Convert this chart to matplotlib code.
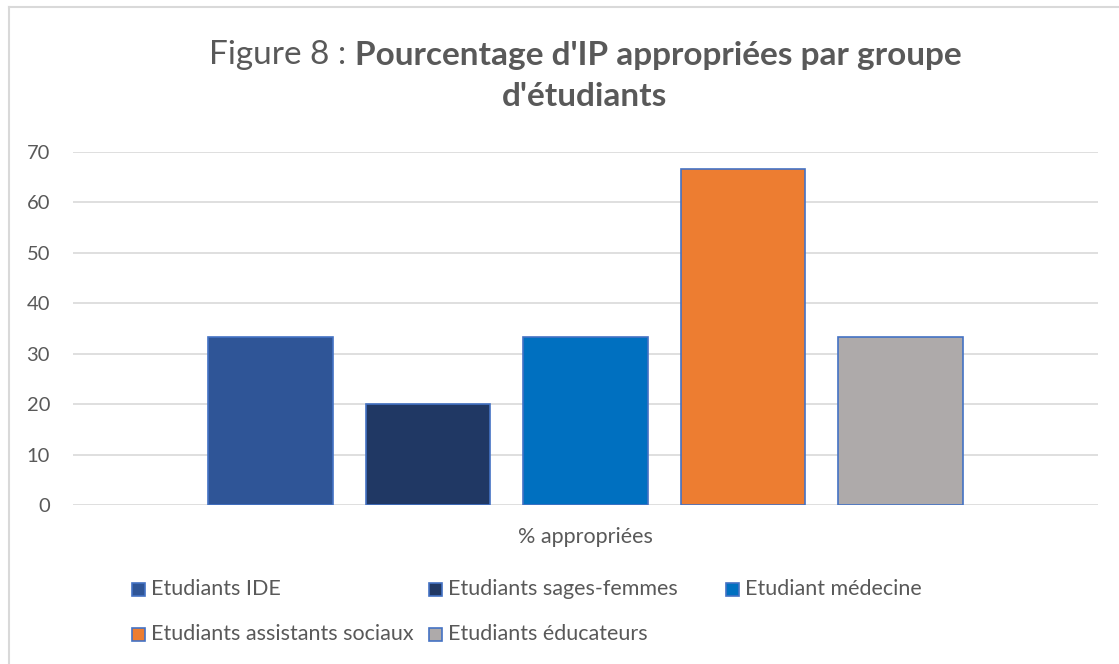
import matplotlib
matplotlib.use("Agg")
import matplotlib.pyplot as plt
from matplotlib.patches import Rectangle
from matplotlib.lines import Line2D

categories = ["Etudiants IDE", "Etudiants sages-femmes", "Etudiant médecine",
              "Etudiants assistants sociaux", "Etudiants éducateurs"]
values = [33.33, 20.0, 33.33, 66.67, 33.33]
colors = ["#2F5597", "#203864", "#0070C0", "#ED7D31", "#AEAAAA"]
yticks = [0, 10, 20, 30, 40, 50, 60, 70]
xlabel = "% appropriées"
title_normal = "Figure 8 : "
title_bold1 = "Pourcentage d'IP appropriées par groupe"
title_bold2 = "d'étudiants"

FONT = "Lato"
TXT = "#595959"
W, H = 1119, 664
fig = plt.figure(figsize=(W / 100, H / 100), dpi=100)
fig.patch.set_facecolor("white")

# chart border (top and left visible)
fig.add_artist(Line2D([9 / W, 1.0], [1 - 7 / H, 1 - 7 / H], color="#D9D9D9", lw=1.5))
fig.add_artist(Line2D([9 / W, 9 / W], [0, 1 - 7 / H], color="#D9D9D9", lw=1.5))

ax = fig.add_axes([73 / W, 1 - 505 / H, (1098 - 73) / W, (505 - 152) / H])
n = len(values)
xs = [i - (n - 1) / 2 for i in range(n)]
ax.bar(xs, values, width=0.79, color=colors, edgecolor="#4472C4", linewidth=1.2, zorder=3)
ax.set_xlim(-3.254, 3.254)
ax.set_ylim(0, 70)
ax.set_yticks(yticks)
ax.set_yticklabels([str(t) for t in yticks], fontsize=14.5, color=TXT, fontfamily=FONT)
ax.tick_params(axis="y", length=0, pad=16.5)
ax.set_xticks([])
ax.grid(axis="y", color="#D9D9D9", linewidth=1.2, zorder=0)
for s in ax.spines.values():
    s.set_visible(False)
ax.set_xlabel(xlabel, fontsize=15.5, color=TXT, fontfamily=FONT, labelpad=16)

# Title with mixed weights, centered
cx = 585 / W
TS = 24
fig.canvas.draw()
r = fig.canvas.get_renderer()
t1 = fig.text(0, 1 - 55 / H, title_normal, fontsize=TS, color=TXT, fontfamily=FONT, va="center")
t2 = fig.text(0, 1 - 55 / H, title_bold1, fontsize=TS, color=TXT, fontfamily=FONT,
              fontweight="bold", va="center")
w1 = t1.get_window_extent(r).width
w2 = t2.get_window_extent(r).width
start = cx * W - (w1 + w2) / 2
t1.set_x(start / W)
t2.set_x((start + w1) / W)
fig.text(cx, 1 - 97 / H, title_bold2, fontsize=TS, color=TXT, fontfamily=FONT,
         fontweight="bold", va="center", ha="center")

# Legend (row-major, equal column widths)
col_x = [132, 429, 726]
row_y = [589, 634]
for i, (lab, c) in enumerate(zip(categories, colors)):
    row, col = divmod(i, 3)
    x0 = col_x[col]
    y0 = row_y[row]
    fig.add_artist(Rectangle((x0 / W, 1 - (y0 + 6.5) / H), 13 / W, 13 / H,
                             facecolor=c, edgecolor="#4472C4", linewidth=1.2,
                             transform=fig.transFigure))
    fig.text((x0 + 19) / W, 1 - y0 / H, lab, fontsize=15.5, color=TXT, fontfamily=FONT,
             va="center", ha="left")

fig.savefig("out.png", dpi=100, facecolor="white")
